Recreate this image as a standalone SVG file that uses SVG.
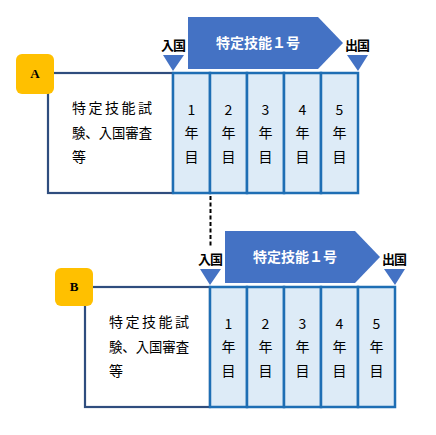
<svg xmlns="http://www.w3.org/2000/svg" width="436" height="435" viewBox="0 0 436 435">
<defs>
<style>
.box{fill:#fff;stroke:#2F4D7E;stroke-width:2.2}
.yr{fill:#DDEBF7;stroke:#1E6EB4;stroke-width:2.5}
.badge{fill:#FFC000}
.bl{font-family:"Liberation Serif",serif;font-weight:bold;font-size:13px;fill:#000;text-anchor:middle}
.lb{font-family:"Liberation Serif","Noto Sans CJK JP",serif;font-weight:bold;font-size:13px;fill:#000;text-anchor:middle;letter-spacing:-1px}
.arr{fill:#4472C4}
.tri{fill:#4472C4}
.at{font-family:"Noto Sans CJK JP",sans-serif;font-size:14px;fill:#fff;text-anchor:middle;font-weight:bold}
.tx{font-family:"Noto Sans CJK JP",sans-serif;font-size:14px;fill:#000}
.ct{font-family:"Noto Sans CJK JP",sans-serif;font-size:14px;fill:#000;text-anchor:middle}
</style>
<g id="panel">
<rect class="box" x="48" y="73" width="125" height="120"/>
<rect class="yr" x="173" y="73" width="37" height="120"/>
<rect class="yr" x="210" y="73" width="37" height="120"/>
<rect class="yr" x="247" y="73" width="37" height="120"/>
<rect class="yr" x="284" y="73" width="37" height="120"/>
<rect class="yr" x="321" y="73" width="37" height="120"/>
<text class="tx" x="72" y="113" textLength="80" lengthAdjust="spacing">特定技能試</text>
<text class="tx" x="72" y="138" textLength="80" lengthAdjust="spacingAndGlyphs">験、入国審査</text>
<text class="tx" x="72" y="162">等</text>
<g class="ct">
<text x="191.5" y="115">1</text><text x="191.5" y="138">年</text><text x="191.5" y="162">目</text>
<text x="228.5" y="115">2</text><text x="228.5" y="138">年</text><text x="228.5" y="162">目</text>
<text x="265.5" y="115">3</text><text x="265.5" y="138">年</text><text x="265.5" y="162">目</text>
<text x="302.5" y="115">4</text><text x="302.5" y="138">年</text><text x="302.5" y="162">目</text>
<text x="339.5" y="115">5</text><text x="339.5" y="138">年</text><text x="339.5" y="162">目</text>
</g>
<polygon class="arr" points="188,17 318,17 343,43 318,69 188,69"/>
<text class="at" x="258" y="48">特定技能１号</text>
<polygon class="tri" points="163,55 184,55 173,71"/>
<polygon class="tri" points="347,55 368,55 358,71"/>
<text class="lb" x="173" y="50">入国</text>
<text class="lb" x="357" y="50">出国</text>
</g>
</defs>
<g id="connectors">
<line x1="210.5" y1="196" x2="210.5" y2="248" stroke="#000" stroke-width="2" stroke-dasharray="4,2.5"/>
</g>
<g id="nodeA">
<use href="#panel"/>
<rect class="badge" x="16" y="54" width="38" height="40" rx="6"/>
<text class="bl" x="35" y="78">A</text>
</g>
<g id="nodeB" transform="translate(37,214)">
<use href="#panel"/>
<rect class="badge" x="18" y="54" width="38" height="38" rx="6"/>
<text class="bl" x="37" y="77">B</text>
</g>
</svg>
